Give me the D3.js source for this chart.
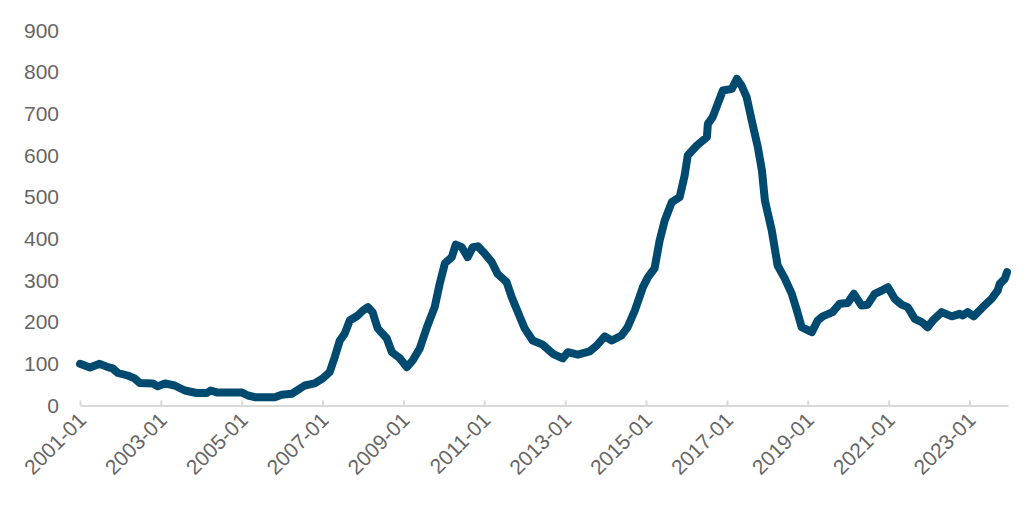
<!DOCTYPE html>
<html>
<head>
<meta charset="utf-8">
<script src="https://cdn.jsdelivr.net/npm/d3@7"></script>
<style>
  html, body { margin: 0; padding: 0; background: #fff; }
  svg { display: block; }
</style>
</head>
<body>
<svg id="chart" width="1026" height="513"></svg>
<script>
// ---- data ----
const dates = [
  "2001-01-01","2001-04-01","2001-06-28","2001-09-10","2001-10-24","2001-12-09",
  "2002-03-07","2002-05-10","2002-06-25","2002-10-21","2002-12-04","2003-02-07",
  "2003-05-06","2003-08-06","2003-11-21","2004-02-21","2004-03-27","2004-05-28",
  "2005-01-03","2005-02-27","2005-04-28","2005-10-27","2005-12-28","2006-03-28",
  "2006-07-24","2006-10-22","2007-01-03","2007-03-06","2007-04-21","2007-06-06",
  "2007-07-19","2007-09-04","2007-11-16","2008-01-01","2008-02-15","2008-03-28",
  "2008-05-13","2008-08-03","2008-09-18","2008-12-01","2009-02-01","2009-03-25",
  "2009-05-28","2009-08-01","2009-10-10","2009-11-25","2010-01-10","2010-03-13",
  "2010-04-18","2010-06-12","2010-08-04","2010-09-19","2010-11-04","2011-01-07",
  "2011-03-10","2011-05-01","2011-07-22","2011-09-06","2011-11-01","2012-01-01",
  "2012-03-13","2012-06-12","2012-09-12","2012-12-10","2013-01-25","2013-04-25",
  "2013-08-10","2013-10-13","2013-12-24","2014-02-26","2014-05-25","2014-07-19",
  "2014-09-22","2014-12-04","2015-01-19","2015-03-19","2015-05-04","2015-06-19",
  "2015-08-22","2015-11-01","2015-12-16","2016-01-13","2016-04-04","2016-07-04",
  "2016-07-13","2016-08-25","2016-10-10","2016-11-25","2017-02-15","2017-04-01",
  "2017-05-13","2017-06-28","2017-08-13","2017-10-07","2017-11-13","2017-12-10",
  "2018-02-10","2018-04-04","2018-06-07","2018-08-10","2018-09-25","2018-11-07",
  "2019-02-07","2019-04-01","2019-05-16","2019-08-13","2019-10-16","2019-12-28",
  "2020-02-22","2020-05-01","2020-06-25","2020-08-28","2020-11-01","2020-12-25",
  "2021-02-25","2021-04-28","2021-06-22","2021-08-25","2021-10-28","2021-12-19",
  "2022-02-04","2022-04-25","2022-07-25","2022-10-04","2022-11-01","2022-12-16",
  "2023-02-10","2023-05-01","2023-07-19","2023-09-13","2023-10-01","2023-11-16",
  "2023-12-06"
];
const values = [
  100, 91, 100, 92, 89, 78,
  72, 65, 54, 53, 46, 53,
  48, 36, 30, 30, 36, 31,
  31, 24, 20, 20, 26, 28,
  48, 53, 65, 80, 116, 156,
  172, 204, 216, 228, 236, 224,
  185, 161, 128, 113, 92, 108,
  137, 188, 236, 293, 341, 356,
  386, 380, 356, 380, 382, 364,
  344, 316, 296, 260, 224, 185,
  156, 146, 124, 113, 128, 122,
  130, 144, 166, 156, 168, 188,
  228, 284, 308, 329, 396, 444,
  488, 500, 552, 600, 624, 644,
  676, 692, 724, 756, 760, 784,
  768, 740, 684, 620, 564, 492,
  420, 336, 305, 268, 228, 188,
  176, 204, 214, 224, 244, 246,
  268, 240, 242, 268, 276, 284,
  256, 242, 236, 208, 200, 188,
  204, 224, 214, 220, 216, 224,
  214, 236, 256, 276, 292, 304,
  320
];
const yTicks = [0, 100, 200, 300, 400, 500, 600, 700, 800, 900];
const xTickDates = ["2001-01","2003-01","2005-01","2007-01","2009-01","2011-01",
                    "2013-01","2015-01","2017-01","2019-01","2021-01","2023-01"];

// ---- chart ----
const svg = d3.select("#chart");
const parseDay = d3.timeParse("%Y-%m-%d");
const parseMonth = d3.timeParse("%Y-%m");
const fmt = d3.timeFormat("%Y-%m");

const data = dates.map((d, i) => ({ date: parseDay(d), value: values[i] }));

const x = d3.scaleTime()
  .domain([parseDay("2001-01-01"), parseDay("2023-12-15")])
  .range([80, 1008]);
const y = d3.scaleLinear().domain([0, 900]).range([405.5, 30.5]);

const font = "'Liberation Sans', Arial, sans-serif";
const textColor = "#666666";

// y axis (labels only)
const yAxis = svg.append("g")
  .attr("transform", "translate(59,0)")
  .call(d3.axisLeft(y).tickValues(yTicks).tickSize(0).tickPadding(0).tickFormat(d3.format("d")));
yAxis.select(".domain").remove();
yAxis.selectAll("text")
  .attr("font-family", font).attr("font-size", 21).attr("fill", textColor);

// x axis
const xAxis = svg.append("g")
  .attr("transform", `translate(0,${y(0)})`)
  .call(d3.axisBottom(x)
    .tickValues(xTickDates.map(parseMonth))
    .tickSize(-5)
    .tickSizeOuter(0)
    .tickFormat(fmt));
xAxis.select(".domain").attr("stroke", "#d9d9d9").attr("stroke-width", 2);
xAxis.selectAll(".tick line").attr("stroke", "#d9d9d9").attr("stroke-width", 2);
xAxis.selectAll(".tick text")
  .attr("font-family", font).attr("font-size", 21).attr("fill", textColor)
  .attr("text-anchor", "end")
  .attr("y", 0).attr("dy", 0)
  .attr("transform", "translate(7,16) rotate(-45)");

// line
const line = d3.line()
  .x(d => x(d.date))
  .y(d => y(d.value))
  .curve(d3.curveLinear);

svg.append("path")
  .datum(data)
  .attr("fill", "none")
  .attr("stroke", "#004a70")
  .attr("stroke-width", 8)
  .attr("stroke-linejoin", "round")
  .attr("stroke-linecap", "round")
  .attr("d", line);
</script>
</body>
</html>
